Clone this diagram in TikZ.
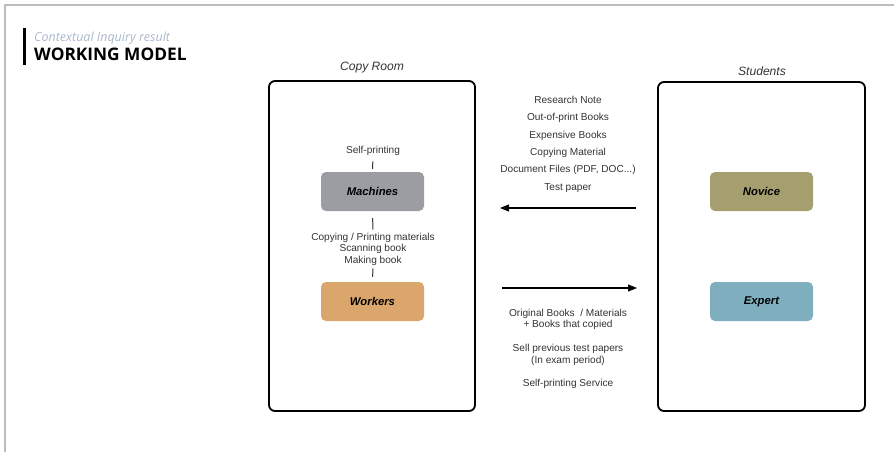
\documentclass[tikz,border=0pt]{standalone}
\usepackage{fontspec}
\setmainfont{Liberation Sans}
\newfontfamily\titlefont{Open Sans}
\usetikzlibrary{arrows.meta}
\definecolor{framegray}{HTML}{BDBDBD}
\definecolor{subtitle}{HTML}{A9B8CC}
\definecolor{machgray}{HTML}{9B9DA3}
\definecolor{workorange}{HTML}{DBA66C}
\definecolor{noviceolive}{HTML}{A59F6F}
\definecolor{expertblue}{HTML}{7FAFBF}
\definecolor{txt}{HTML}{333333}
\tikzset{
  panel/.style={draw=black, line width=1.8pt, rounded corners=6pt},
  role/.style={rounded corners=5pt, minimum width=103pt, minimum height=39pt,
    font=\fontsize{11.3}{13}\selectfont\bfseries\itshape, text=black},
  small/.style={font=\fontsize{10.1}{11.7}\selectfont, text=txt, align=center, inner sep=0pt},
  heading/.style={font=\fontsize{12.1}{14}\selectfont\itshape, text=txt, inner sep=0pt},
  tick/.style={draw=txt, line width=1pt},
  flow/.style={draw=black, line width=1.1pt, -{Triangle[length=9pt,width=7pt]}},
}
\begin{document}
\begin{tikzpicture}[x=1pt, y=-1pt]
\useasboundingbox (0,0) rectangle (894,452);
% page frame
\draw[framegray, line width=1.5pt] (894,5) -- (5,5) -- (5,452);

% title block
\fill[black] (23,28) rectangle (25.5,65);
\node[anchor=base west, inner sep=0pt, text=subtitle,
  font=\titlefont\fontsize{12.5}{14}\selectfont\itshape] (subt) at (34,42) {Contextual Inquiry result};
\node[anchor=base west, inner sep=0pt,
  font=\titlefont\fontsize{17.3}{20}\selectfont\bfseries] (ttl) at (34,61) {WORKING MODEL};

% copy room panel
\node[heading] (copyroom) at (372,68) {Copy Room};
\draw[panel] (269,81) rectangle (475,411);
\node[small] (selfp) at (373,150.5) {Self-printing};
\node[role, fill=machgray] (mach) at (372.5,191.5) {Machines};
\node[small, font=\fontsize{10.1}{11.5}\selectfont] (tasks) at (373,249) {Copying / Printing materials\\Scanning book\\Making book};
\node[role, fill=workorange] (work) at (372.5,301.5) {Workers};
\draw[tick, shorten <=6pt, shorten >=3pt] (selfp.south) -- (mach.north);
\draw[tick, shorten <=7pt, shorten >=3pt] (mach.south) -- (tasks.north);
\draw[tick, shorten <=3pt, shorten >=5pt] (tasks.south) -- (work.north);

% students panel
\node[heading] (students) at (762,71) {Students};
\draw[panel] (658,82) rectangle (865,411);
\node[role, fill=noviceolive] (novice) at (761.5,191.5) {Novice};
\node[role, fill=expertblue] (expert) at (761.5,301.5) {Expert};

% exchanges between the two panels
\node[small, anchor=north] (give) at (568,95.7)
  {Research Note\\[5.7pt]Out-of-print Books\\[5.7pt]Expensive Books\\[5.7pt]Copying Material\\[5.7pt]Document Files (PDF, DOC...)\\[5.7pt]Test paper};
\coordinate (inR) at (636,208);
\coordinate (inL) at (500,208);
\draw[flow] (inR) -- (inL);
\coordinate (outL) at (502,288);
\coordinate (outR) at (637,288);
\draw[flow] (outL) -- (outR);
\node[small, anchor=north] (back1) at (568,308.5) {Original Books\ \ / Materials\\+ Books that copied};
\node[small, anchor=north] (back2) at (568,344) {Sell previous test papers\\(In exam period)};
\node[small, anchor=north] (back3) at (568,378.5) {Self-printing Service};
\end{tikzpicture}
\end{document}
